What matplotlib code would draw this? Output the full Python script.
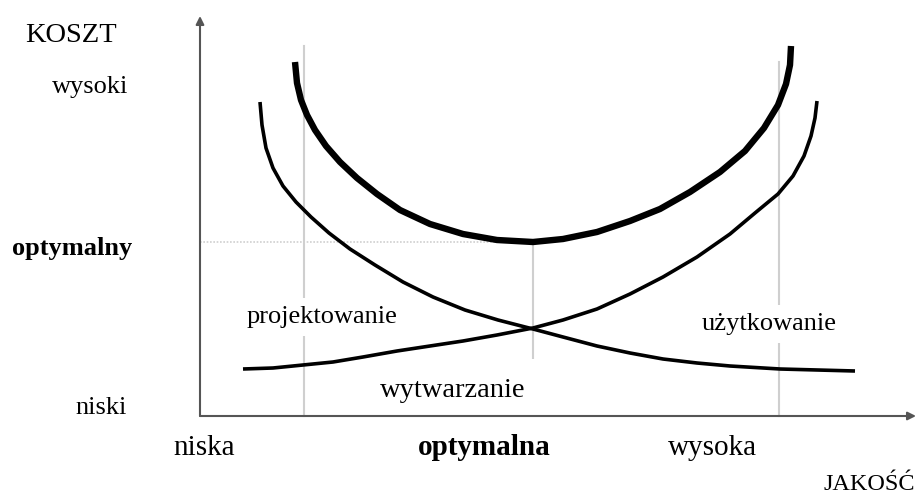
import matplotlib
matplotlib.use("Agg")
import matplotlib.pyplot as plt

# ---- data (quality on x, cost on y; arbitrary units, origin at axis crossing) ----
design_q = [60, 62, 66, 73, 83, 96, 111, 129, 150, 175, 203, 233, 265, 298, 333,
            363, 397, 430, 463, 497, 530, 580, 655]
design_c = [314, 291, 268, 248, 230, 214, 199, 183, 167, 151, 134, 119, 106, 96, 87,
            79, 70, 63, 57, 53, 50, 47, 45]

use_q = [43, 73, 103, 133, 163, 197, 230, 263, 297, 333, 363, 397, 430, 463, 497,
         530, 555, 578, 593, 604, 611, 615, 617]
use_c = [47, 48, 51, 54, 59, 65, 70, 75, 81, 88, 96, 107, 122, 139, 159,
         182, 203, 222, 240, 260, 280, 298, 315]

total_q = [95, 97, 101, 107, 115, 126, 140, 157, 177, 200, 230, 263, 297, 333,
           363, 397, 430, 460, 490, 520, 545, 564, 578, 586, 590, 591]
total_c = [354, 333, 316, 301, 286, 270, 254, 238, 222, 206, 192, 182, 176, 174,
           177, 184, 195, 207, 224, 244, 265, 288, 311, 332, 351, 370]

guide_q = [104, 333, 579]          # quality levels: niska, optymalna, wysoka
guide_top = [370, 174, 354]
optimum_cost = 174

y_labels = ["wysoki", "optymalny", "niski"]
x_labels = ["niska", "optymalna", "wysoka"]
curve_labels = ["projektowanie", "wytwarzanie", "użytkowanie"]

fig = plt.figure(figsize=(9.17, 4.96), dpi=100)
ax = fig.add_axes([0, 0, 1, 1])
ax.set_xlim(-200, 717)
ax.set_ylim(-80, 416)
ax.axis("off")

serif = ["Liberation Serif", "DejaVu Serif"]
fs = 19
fsx = 21

# guide lines
for q, top in zip(guide_q, guide_top):
    ax.plot([q, q], [0, top], color="#cfcfcf", lw=1.5, zorder=1)
ax.plot([0, guide_q[1]], [optimum_cost, optimum_cost], color="#cfcfcf", lw=1.2,
        ls=(0, (1, 1)), zorder=1)

# axes with arrows
axis_col = "#555555"
ax.annotate("", xy=(0, 400), xytext=(0, 0),
            arrowprops=dict(arrowstyle="-|>", color=axis_col, lw=1.5, mutation_scale=12,
                            shrinkA=0, shrinkB=0), zorder=3)
ax.annotate("", xy=(716, 0), xytext=(0, 0),
            arrowprops=dict(arrowstyle="-|>", color=axis_col, lw=1.5, mutation_scale=12,
                            shrinkA=0, shrinkB=0), zorder=3)

# curves
ax.plot(design_q, design_c, color="black", lw=2.6, solid_capstyle="butt", solid_joinstyle="round", zorder=4)
ax.plot(use_q, use_c, color="black", lw=2.6, solid_capstyle="butt", solid_joinstyle="round", zorder=4)
ax.plot(total_q, total_c, color="black", lw=4.6, solid_capstyle="butt", solid_joinstyle="round", zorder=4)

# axis titles
ax.text(-175, 374, "KOSZT", family=serif, fontsize=20.5, va="baseline", ha="left")
ax.text(715, -74, "JAKOŚĆ", family=serif, fontsize=17.5, va="baseline", ha="right")

# y labels
ax.text(-148, 323, y_labels[0], family=serif, fontsize=fs, va="baseline", ha="left")
ax.text(-188, 161, y_labels[1], family=serif, fontsize=fs, fontweight="bold", va="baseline", ha="left")
ax.text(-125, 2, y_labels[2], family=serif, fontsize=fs, va="baseline", ha="left")

# x labels
ax.text(-27, -39, x_labels[0], family=serif, fontsize=fsx, va="baseline", ha="left")
ax.text(284, -39, x_labels[1], family=serif, fontsize=fsx, fontweight="bold", va="baseline", ha="center")
ax.text(468, -39, x_labels[2], family=serif, fontsize=fsx, va="baseline", ha="left")

# curve labels with white background cutting guide lines
bb = dict(facecolor="white", edgecolor="none", pad=6)
bb_wide = dict(facecolor="white", edgecolor="none", pad=14)
ax.text(47, 93, curve_labels[0], family=serif, fontsize=fs, va="baseline", ha="left", bbox=bb, zorder=2)
ax.text(180, 19, curve_labels[1], family=serif, fontsize=20.5, va="baseline", ha="left", bbox=bb_wide, zorder=2)
ax.text(502, 86, curve_labels[2], family=serif, fontsize=fs, va="baseline", ha="left", bbox=bb, zorder=2)

fig.savefig("out.png", dpi=100, facecolor="white")
